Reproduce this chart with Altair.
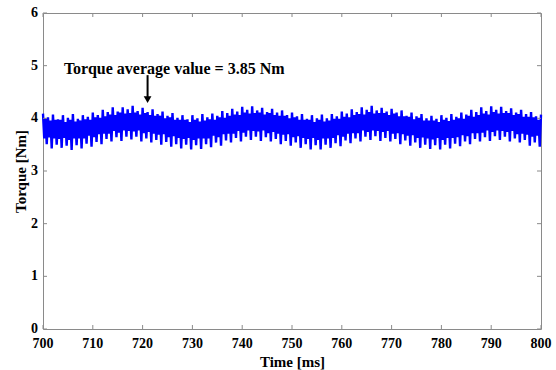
import altair as alt
import pandas as pd

# Large positive peaks, read at t = 700, 701, ..., 800 ms
upper_start = 700.0
upper_vals = [
    4.09, 4.02, 4.07, 3.98, 4.06, 4.01, 4.08, 3.99, 4.06, 4.03,
    4.11, 4.06, 4.16, 4.12, 4.21, 4.13, 4.21, 4.17, 4.24, 4.14,
    4.20, 4.12, 4.17, 4.08, 4.13, 4.05, 4.10, 4.01, 4.06, 3.98,
    4.06, 4.00, 4.08, 4.02, 4.09, 4.05, 4.14, 4.10, 4.18, 4.13,
    4.22, 4.16, 4.23, 4.15, 4.20, 4.12, 4.18, 4.11, 4.15, 4.06,
    4.11, 4.04, 4.08, 3.99, 4.06, 4.00, 4.07, 4.00, 4.08, 4.04,
    4.13, 4.09, 4.17, 4.12, 4.21, 4.16, 4.24, 4.15, 4.20, 4.13,
    4.18, 4.11, 4.15, 4.05, 4.11, 4.04, 4.08, 4.00, 4.05, 3.99,
    4.06, 4.01, 4.08, 4.03, 4.11, 4.07, 4.16, 4.12, 4.21, 4.14,
    4.23, 4.16, 4.22, 4.14, 4.19, 4.11, 4.16, 4.08, 4.12, 4.04,
    4.07,
]
# Small inner troughs, read at t = 700.25, 701.25, ..., 799.25 ms
midlo_start = 700.25
midlo_vals = [
    3.62, 3.64, 3.62, 3.61, 3.63, 3.59, 3.62, 3.62, 3.62, 3.67,
    3.64, 3.70, 3.71, 3.71, 3.76, 3.73, 3.77, 3.76, 3.75, 3.77,
    3.72, 3.74, 3.71, 3.69, 3.70, 3.64, 3.66, 3.63, 3.61, 3.63,
    3.59, 3.62, 3.62, 3.62, 3.67, 3.64, 3.70, 3.71, 3.71, 3.76,
    3.73, 3.77, 3.76, 3.75, 3.77, 3.72, 3.74, 3.71, 3.69, 3.70,
    3.64, 3.66, 3.63, 3.61, 3.63, 3.59, 3.62, 3.62, 3.63, 3.68,
    3.65, 3.71, 3.72, 3.72, 3.77, 3.74, 3.77, 3.76, 3.74, 3.76,
    3.71, 3.72, 3.70, 3.67, 3.68, 3.63, 3.64, 3.62, 3.60, 3.63,
    3.59, 3.63, 3.63, 3.64, 3.68, 3.66, 3.72, 3.72, 3.73, 3.77,
    3.74, 3.77, 3.76, 3.74, 3.76, 3.70, 3.71, 3.69, 3.65, 3.67,
]
# Small inner peaks, read at t = 700.5, 701.5, ..., 799.5 ms
midhi_start = 700.5
midhi_vals = [
    4.00, 3.96, 3.97, 3.97, 3.93, 3.97, 3.94, 3.96, 3.98, 3.97,
    4.02, 4.01, 4.04, 4.07, 4.06, 4.11, 4.09, 4.10, 4.11, 4.07,
    4.10, 4.06, 4.05, 4.05, 4.00, 4.02, 3.97, 3.97, 3.97, 3.93,
    3.97, 3.94, 3.96, 3.98, 3.97, 4.02, 4.01, 4.05, 4.07, 4.06,
    4.11, 4.09, 4.10, 4.11, 4.07, 4.10, 4.06, 4.05, 4.05, 4.00,
    4.02, 3.97, 3.97, 3.97, 3.93, 3.97, 3.94, 3.96, 3.99, 3.99,
    4.03, 4.02, 4.06, 4.08, 4.07, 4.12, 4.09, 4.10, 4.10, 4.06,
    4.09, 4.04, 4.04, 4.03, 3.98, 4.01, 3.96, 3.96, 3.96, 3.93,
    3.97, 3.95, 3.97, 4.00, 3.99, 4.05, 4.03, 4.06, 4.09, 4.07,
    4.12, 4.09, 4.10, 4.10, 4.06, 4.08, 4.03, 4.03, 4.02, 3.97,
]
# Large negative troughs, read at t = 700.75, 701.75, ..., 799.75 ms
lower_start = 700.75
lower_vals = [
    3.51, 3.43, 3.50, 3.44, 3.48, 3.40, 3.49, 3.43, 3.52, 3.46,
    3.55, 3.51, 3.61, 3.56, 3.64, 3.57, 3.65, 3.60, 3.65, 3.56,
    3.62, 3.54, 3.59, 3.50, 3.55, 3.46, 3.51, 3.43, 3.50, 3.41,
    3.49, 3.42, 3.51, 3.45, 3.54, 3.48, 3.58, 3.54, 3.63, 3.56,
    3.65, 3.59, 3.65, 3.57, 3.64, 3.56, 3.61, 3.51, 3.57, 3.48,
    3.54, 3.44, 3.51, 3.41, 3.49, 3.41, 3.50, 3.44, 3.53, 3.47,
    3.58, 3.53, 3.62, 3.56, 3.65, 3.59, 3.66, 3.57, 3.63, 3.56,
    3.61, 3.51, 3.58, 3.48, 3.54, 3.44, 3.50, 3.42, 3.49, 3.41,
    3.50, 3.43, 3.52, 3.47, 3.56, 3.51, 3.61, 3.56, 3.64, 3.57,
    3.66, 3.59, 3.65, 3.56, 3.62, 3.54, 3.59, 3.48, 3.54, 3.46,
]

x_ticks = [700, 710, 720, 730, 740, 750, 760, 770, 780, 790, 800]
y_ticks = [0, 1, 2, 3, 4, 5, 6]

annot_text = "Torque average value = 3.85 Nm"
annot_x, annot_y = 704.2, 4.93
arrow_x, arrow_top, arrow_bottom = 721.0, 4.82, 4.36
arrow_tip = 4.3

rows = []
for start, vals in ((upper_start, upper_vals), (midlo_start, midlo_vals),
                    (midhi_start, midhi_vals), (lower_start, lower_vals)):
    rows += [{"t": start + i, "v": v} for i, v in enumerate(vals)]
df = pd.DataFrame(rows).sort_values("t").reset_index(drop=True)

W, H = 498, 316
FONT = "Liberation Serif"
GRAY = "#8a8a8a"

xs = alt.Scale(domain=[700, 800], nice=False, zero=False)
ys = alt.Scale(domain=[0, 6], nice=False)

ax_common = dict(
    grid=False, domain=False, ticks=False, labels=False,
    titleFont=FONT, titleFontSize=15, titleFontWeight="bold", titleColor="black",
)

line = alt.Chart(df).mark_line(color="#0000ff", strokeWidth=2.4).encode(
    x=alt.X("t:Q", scale=xs, title="Time [ms]",
            axis=alt.Axis(values=x_ticks, titlePadding=25, **ax_common)),
    y=alt.Y("v:Q", scale=ys, title="Torque [Nm]",
            axis=alt.Axis(values=y_ticks, titlePadding=15, **ax_common)),
)

xt = pd.DataFrame({"x": x_ticks})
yt = pd.DataFrame({"y": y_ticks})
tk = dict(color=GRAY, strokeWidth=1)
bot = alt.Chart(xt).mark_rule(**tk).encode(
    x=alt.X("x:Q", scale=xs), y=alt.value(H), y2=alt.value(H - 4))
top = alt.Chart(xt).mark_rule(**tk).encode(
    x=alt.X("x:Q", scale=xs), y=alt.value(0), y2=alt.value(4))
lft = alt.Chart(yt).mark_rule(**tk).encode(
    y=alt.Y("y:Q", scale=ys), x=alt.value(0), x2=alt.value(4))
rgt = alt.Chart(yt).mark_rule(**tk).encode(
    y=alt.Y("y:Q", scale=ys), x=alt.value(W), x2=alt.value(W - 4))

lab = dict(font=FONT, fontSize=14, fontWeight="bold", color="black")
xlab = alt.Chart(xt).mark_text(align="center", baseline="middle", **lab).encode(
    x=alt.X("x:Q", scale=xs), y=alt.value(H + 15), text=alt.Text("x:Q", format="d"))
ylab = alt.Chart(yt).mark_text(align="right", baseline="middle", **lab).encode(
    y=alt.Y("y:Q", scale=ys), x=alt.value(-5), text=alt.Text("y:Q", format="d"))

adf = pd.DataFrame({"x": [arrow_x], "y": [arrow_top], "y2": [arrow_bottom],
                    "tip": [arrow_tip]})
shaft = alt.Chart(adf).mark_rule(color="black", strokeWidth=2).encode(
    x=alt.X("x:Q", scale=xs), y=alt.Y("y:Q", scale=ys), y2="y2:Q")
head = alt.Chart(adf).mark_point(shape="triangle-down", filled=True,
                                 color="black", size=60, opacity=1,
                                 yOffset=-3).encode(
    x=alt.X("x:Q", scale=xs), y=alt.Y("tip:Q", scale=ys))

tdf = pd.DataFrame({"x": [annot_x], "y": [annot_y], "label": [annot_text]})
text = alt.Chart(tdf).mark_text(align="left", baseline="middle", font=FONT,
                                fontSize=16, fontWeight="bold",
                                color="black").encode(
    x=alt.X("x:Q", scale=xs), y=alt.Y("y:Q", scale=ys), text="label:N")

chart = alt.layer(line, bot, top, lft, rgt, xlab, ylab, shaft, head,
                  text).properties(
    width=W, height=H,
    autosize=alt.AutoSizeParams(type="none"),
    padding={"left": 43, "top": 13, "right": 15, "bottom": 41},
).configure_view(stroke=GRAY, strokeWidth=1)

chart.save("out.html", embed_options={"renderer": "svg", "actions": False})
